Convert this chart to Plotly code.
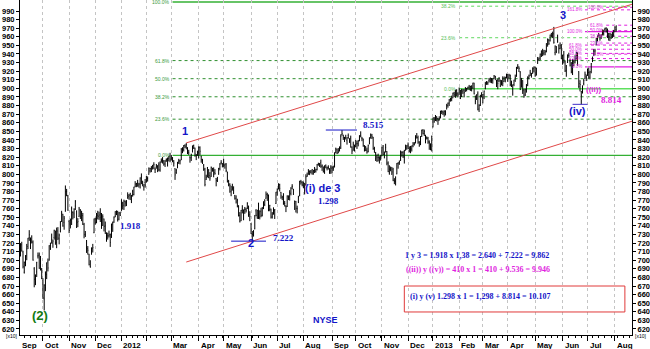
import pandas as pd
import plotly.graph_objects as go

# ---------------------------------------------------------------------------
# NYSE Composite, daily bars, quoted in index points / 10
# ---------------------------------------------------------------------------
market_holidays = [
    "2011-09-05", "2011-11-24", "2011-12-26", "2012-01-02", "2012-01-16",
    "2012-02-20", "2012-04-06", "2012-05-28", "2012-07-04", "2012-09-03",
    "2012-10-29", "2012-10-30", "2012-11-22", "2012-12-25", "2013-01-01",
    "2013-01-21", "2013-02-18", "2013-03-29", "2013-05-27", "2013-07-04",
]
sessions = pd.bdate_range("2011-09-01", "2013-08-02", freq="C", holidays=market_holidays)

bar_open = [
    726.0, 714.0, 694.0, 705.0, 718.0, 709.5, 686.0, 697.5, 705.0, 716.0, 726.5, 725.0, 723.5, 721.0, 690.0, 675.0, 686.5, 705.0, 706.0, 700.0, 689.5,
    676.0, 655.0, 668.0, 683.5, 698.0, 700.0, 714.0, 720.0, 720.0, 726.5, 733.0, 720.5, 734.0, 725.0, 733.0, 745.0, 753.5, 744.0, 757.0, 776.0, 775.0,
    745.0, 740.0, 748.0, 755.5, 754.0, 763.0, 757.0, 744.0, 751.0, 758.0, 749.5, 752.0, 741.5, 730.5, 723.0, 713.5, 707.0, 693.0, 707.0, 713.5, 732.0,
    747.0, 748.0, 752.5, 751.0, 750.0, 752.0, 740.5, 748.0, 740.0, 731.0, 728.5, 728.5, 730.0, 726.5, 742.0, 744.5, 751.0, 755.5, 756.5, 748.0, 754.0,
    758.0, 763.0, 764.0, 768.5, 767.0, 772.5, 774.0, 776.0, 775.0, 780.0, 776.5, 786.0, 787.5, 790.0, 787.5, 788.5, 797.0, 788.5, 785.5, 790.5,
    791.0, 795.0, 800.0, 804.0, 806.5, 808.5, 811.0, 806.0, 809.0, 809.5, 811.0, 805.0, 816.5, 817.0, 815.5, 812.0, 817.0, 813.0, 818.5, 821.5,
    818.0, 819.0, 815.5, 806.5, 802.0, 808.0, 814.0, 815.5, 817.0, 829.5, 828.5, 833.5, 831.5, 831.0, 825.5, 820.0, 819.5, 826.0, 833.5, 830.5, 821.5, 825.0,
    825.0, 831.0, 821.0, 816.5, 810.5, 806.0, 794.0, 797.0, 805.0, 798.5, 797.5, 806.5, 804.5, 802.0, 795.0, 793.0, 800.0, 806.5, 813.5, 812.5,
    811.0, 810.5, 812.0, 802.5, 787.5, 788.5, 780.0, 785.0, 778.5, 775.0, 772.0, 769.5, 763.0, 752.0, 746.0, 759.5, 755.0, 759.0, 759.0, 761.0, 763.0, 753.0,
    742.5, 730.5, 729.5, 736.5, 757.5, 750.0, 766.0, 750.0, 756.5, 752.5, 761.0, 765.0, 772.0, 776.5, 775.5, 759.0, 759.5, 750.5, 754.5, 757.5, 766.0,
    779.5, 783.0, 788.0, 779.0, 773.0, 775.0, 766.5, 763.0, 762.5, 773.5, 774.5, 777.5, 786.0, 782.5, 766.0, 768.0, 760.5, 767.5, 775.0, 791.5, 790.5,
    789.5, 786.0, 787.5, 797.5, 800.0, 801.0, 802.5, 801.5, 803.5, 806.0, 803.5, 805.5, 811.5, 811.0, 813.5, 809.0, 808.5, 802.5, 810.0, 807.0, 808.0, 806.5, 804.0,
    807.0, 807.5, 808.5, 825.0, 828.5, 825.0, 828.5, 830.5, 846.0, 845.5, 841.0, 842.5, 839.5, 845.0, 838.5, 842.0, 831.5, 828.0, 833.5,
    832.0, 836.0, 835.5, 839.0, 845.5, 842.0, 841.0, 832.5, 831.5, 828.0, 826.5, 835.5, 842.5, 845.5, 843.0, 829.5, 825.0, 820.0, 819.5, 818.5, 820.0,
    821.5, 833.0, 822.0, 826.0, 826.5, 813.0, 801.5, 806.5, 800.0, 806.0, 792.5, 792.0, 800.5, 812.5, 813.5, 816.0, 826.0, 825.5, 820.0, 828.5, 830.5,
    834.0, 830.5, 829.0, 829.5, 833.5, 835.0, 836.5, 843.5, 842.5, 837.5, 834.5, 844.0, 851.5, 847.5, 838.5, 843.0, 842.0, 837.5, 834.0, 829.0,
    855.0, 865.5, 864.5, 867.0, 865.0, 863.5, 867.5, 873.0, 872.5, 870.5, 872.0, 876.0, 880.0, 883.0, 887.0, 887.5, 889.0, 894.5, 891.5, 897.5, 893.5,
    893.0, 897.5, 890.5, 896.0, 898.0, 896.5, 899.5, 899.5, 901.5, 898.5, 902.5, 900.5, 906.0, 891.0, 887.5, 893.5, 876.0, 880.5, 891.5,
    889.0, 890.0, 899.5, 906.5, 906.0, 909.0, 909.0, 911.0, 909.5, 911.5, 914.0, 902.5, 909.0, 908.5, 909.5, 904.0, 911.0, 908.0, 910.0, 913.0,
    916.0, 912.0, 915.0, 904.5, 899.0, 904.5, 910.0, 914.0, 924.0, 925.0, 919.0, 901.5, 909.0, 898.0, 892.5, 899.5, 905.5, 912.5, 915.0, 917.0, 917.5, 923.0,
    924.5, 915.5, 929.0, 933.5, 936.5, 939.0, 943.5, 941.0, 942.0, 942.5, 951.0, 956.0, 955.5, 961.0, 961.0, 963.5, 941.5, 943.0, 955.5, 950.5, 946.5, 947.5,
    934.5, 939.0, 931.0, 920.5, 930.5, 938.5, 931.0, 929.5, 919.0, 931.5, 930.5, 934.5, 941.0, 919.5, 905.5, 896.0, 895.0, 905.5, 911.5, 913.5,
    915.5, 918.5, 913.0, 922.5, 932.5, 939.5, 942.0, 950.5, 957.5, 961.5, 962.0, 959.5, 962.5, 964.0, 968.5, 970.0, 969.0, 959.5, 960.0, 962.5, 962.0, 962.5,
    966.0, 968.5,
]
bar_high = [
    732.5, 715.5, 700.5, 719.8, 721.5, 711.0, 698.5, 706.0, 719.0, 726.0, 735.0, 726.5, 729.0, 723.0, 692.0, 683.5, 698.0, 709.0, 709.0, 705.0, 691.0,
    679.0, 672.0, 687.0, 697.5, 702.0, 717.5, 720.5, 731.0, 724.0, 735.5, 734.5, 738.0, 738.5, 731.0, 745.5, 757.5, 754.0, 751.5, 787.0, 783.0, 776.0,
    747.0, 748.5, 762.5, 757.0, 760.5, 770.0, 758.0, 749.0, 762.0, 759.5, 757.5, 755.0, 743.5, 734.0, 723.5, 716.5, 707.5, 700.0, 715.0, 719.0, 748.5,
    749.5, 755.0, 757.5, 756.5, 760.5, 755.0, 753.5, 748.5, 745.0, 732.5, 732.0, 734.5, 731.0, 742.5, 745.0, 751.0, 757.0, 758.0, 757.5, 756.0, 756.5,
    771.0, 768.0, 770.5, 769.5, 770.0, 779.0, 777.0, 778.5, 776.0, 782.0, 785.5, 792.0, 790.0, 793.5, 790.0, 796.5, 801.0, 792.5, 788.5, 794.5,
    798.0, 797.5, 808.0, 807.5, 809.5, 811.0, 814.0, 808.0, 812.0, 810.5, 814.0, 815.0, 818.5, 820.0, 816.5, 816.5, 818.5, 819.5, 821.5, 825.0,
    822.5, 820.0, 816.5, 807.0, 806.5, 814.5, 818.0, 817.0, 830.5, 831.5, 834.0, 835.0, 836.5, 831.5, 828.5, 821.0, 824.0, 833.5, 834.5, 831.0, 823.5, 827.5,
    832.5, 832.5, 821.5, 818.0, 812.0, 807.5, 799.5, 808.5, 806.0, 802.5, 809.0, 807.5, 808.0, 806.0, 795.5, 797.0, 807.5, 813.0, 816.5, 813.0,
    818.0, 812.5, 813.0, 803.0, 793.5, 789.5, 786.5, 789.0, 786.0, 776.0, 775.5, 771.5, 764.0, 756.0, 758.5, 764.0, 759.0, 762.0, 761.0, 767.5, 763.5, 757.0,
    743.0, 734.0, 735.0, 752.5, 759.5, 758.5, 767.0, 758.0, 761.0, 762.0, 768.5, 771.0, 780.0, 778.5, 776.5, 764.5, 760.0, 756.0, 761.5, 759.5, 779.5,
    783.5, 789.5, 789.0, 779.5, 775.0, 778.0, 769.0, 764.0, 775.5, 775.5, 781.5, 785.0, 788.5, 783.0, 769.5, 769.0, 763.5, 775.0, 792.5, 793.5, 792.0,
    791.5, 790.0, 800.0, 802.0, 806.0, 804.5, 805.0, 806.0, 805.0, 808.5, 806.5, 812.0, 813.5, 813.0, 817.0, 811.5, 809.0, 810.5, 811.5, 809.0, 810.5, 807.0, 810.5,
    810.0, 810.0, 825.5, 831.0, 830.0, 830.5, 832.5, 846.5, 851.5, 846.0, 843.5, 846.0, 843.0, 847.5, 842.0, 845.0, 832.5, 838.0, 834.5,
    840.0, 839.0, 840.0, 845.5, 850.0, 843.5, 841.5, 834.0, 833.0, 831.0, 834.5, 843.0, 847.5, 847.0, 843.5, 832.0, 826.0, 823.0, 824.0, 821.0, 822.5,
    832.0, 834.0, 826.5, 835.5, 827.0, 815.0, 810.5, 809.0, 808.5, 807.5, 795.5, 797.5, 813.0, 814.0, 816.0, 827.5, 826.5, 827.0, 828.5, 834.5, 834.0,
    837.0, 832.5, 833.0, 833.5, 837.5, 837.5, 845.5, 848.0, 845.0, 838.5, 844.5, 852.0, 852.5, 852.0, 846.0, 844.0, 843.5, 839.5, 836.0, 845.0,
    866.0, 866.5, 869.0, 867.5, 865.5, 867.5, 874.0, 874.5, 874.0, 874.5, 874.5, 882.0, 883.5, 887.5, 889.0, 891.5, 895.0, 896.0, 898.5, 899.0, 895.5,
    901.0, 898.0, 899.5, 899.0, 899.0, 901.5, 900.5, 902.0, 904.0, 903.0, 903.5, 906.5, 906.5, 891.5, 893.0, 896.5, 881.5, 892.5, 895.5,
    893.5, 897.5, 907.5, 908.5, 908.0, 912.0, 912.5, 912.0, 911.5, 915.5, 914.5, 910.0, 911.0, 913.0, 910.0, 909.5, 914.0, 913.5, 913.5, 917.0,
    916.5, 917.0, 916.0, 909.0, 904.5, 910.0, 916.0, 925.0, 928.0, 925.5, 920.0, 912.0, 909.5, 899.5, 899.5, 905.0, 914.0, 916.0, 921.5, 918.0, 924.5, 925.5,
    925.0, 924.0, 936.5, 936.0, 940.5, 944.0, 946.0, 944.5, 944.5, 952.5, 958.0, 957.5, 962.5, 964.5, 966.0, 971.5, 950.0, 949.0, 962.5, 951.0, 953.5, 951.5,
    939.0, 943.5, 932.0, 927.0, 939.5, 941.5, 934.5, 930.5, 934.0, 933.5, 938.5, 942.5, 942.0, 920.0, 909.5, 897.0, 903.5, 911.0, 919.5, 916.0,
    923.0, 924.0, 920.5, 929.5, 937.0, 945.5, 946.0, 958.5, 961.5, 964.5, 962.5, 963.0, 968.5, 968.0, 970.5, 971.0, 969.5, 964.5, 964.5, 963.5, 965.5, 968.0,
    972.0, 973.0,
]
bar_low = [
    720.0, 702.0, 688.5, 704.5, 710.0, 690.5, 684.5, 693.0, 700.0, 713.0, 722.5, 713.0, 719.5, 699.5, 668.5, 671.0, 680.5, 702.0, 690.0, 688.0, 678.0,
    655.0, 641.5, 664.0, 678.0, 687.0, 699.5, 712.0, 719.5, 714.5, 724.0, 718.0, 714.0, 723.5, 718.5, 732.5, 744.5, 739.0, 735.5, 756.5, 774.5, 757.5,
    731.5, 737.0, 741.0, 747.5, 749.0, 758.5, 737.5, 738.5, 750.5, 748.0, 745.5, 741.0, 725.5, 727.0, 708.5, 706.5, 694.0, 691.5, 706.5, 709.0, 731.5,
    741.5, 743.0, 747.5, 747.0, 744.5, 736.5, 740.0, 733.5, 730.5, 721.5, 724.0, 726.5, 715.5, 726.0, 733.0, 743.5, 750.0, 752.5, 745.0, 746.5, 751.5,
    757.5, 759.0, 758.5, 762.5, 763.0, 771.5, 770.5, 770.0, 766.5, 774.0, 775.5, 785.0, 785.0, 785.5, 784.5, 783.5, 788.5, 786.0, 781.0, 784.5,
    790.5, 791.5, 799.5, 802.0, 802.5, 805.5, 806.0, 801.5, 806.5, 802.5, 803.5, 803.0, 813.5, 812.5, 810.0, 808.5, 814.5, 809.0, 815.0, 814.0,
    816.0, 814.0, 809.0, 793.5, 800.5, 807.0, 812.0, 811.5, 816.5, 824.5, 826.5, 830.5, 829.0, 823.5, 822.5, 813.5, 815.5, 825.5, 829.5, 820.5, 816.5, 821.5,
    818.5, 822.5, 813.5, 812.0, 804.0, 786.0, 793.5, 796.5, 795.5, 792.5, 797.0, 803.0, 796.5, 799.5, 786.0, 791.0, 799.5, 804.5, 811.5, 808.0,
    808.0, 806.5, 802.5, 790.5, 786.0, 778.5, 774.5, 781.0, 777.0, 770.5, 766.0, 761.5, 751.0, 744.0, 745.5, 754.5, 746.5, 754.0, 755.5, 759.5, 750.5, 745.5,
    730.5, 722.2, 727.5, 736.0, 751.0, 748.0, 748.0, 747.5, 750.0, 751.0, 759.5, 763.0, 771.5, 769.0, 757.0, 757.0, 748.5, 748.5, 753.0, 748.0, 765.5,
    775.0, 782.5, 780.0, 771.5, 770.0, 764.5, 762.5, 756.0, 762.0, 770.0, 769.5, 775.5, 782.5, 776.0, 758.5, 755.5, 754.5, 766.5, 774.5, 788.0, 786.0,
    784.0, 776.5, 787.0, 797.0, 799.5, 799.0, 801.0, 799.5, 799.5, 801.5, 802.0, 804.5, 810.0, 808.5, 807.5, 804.0, 802.0, 800.5, 807.0, 804.5, 805.5, 800.5, 800.5,
    801.0, 804.0, 808.0, 824.5, 823.5, 824.5, 826.5, 829.5, 845.0, 840.0, 837.5, 840.5, 834.5, 841.5, 836.5, 831.0, 823.5, 827.5, 826.5,
    831.5, 829.5, 832.5, 838.5, 843.0, 838.5, 832.0, 826.5, 827.0, 824.0, 825.5, 835.0, 841.5, 841.0, 828.5, 825.0, 815.5, 814.5, 815.0, 812.5, 816.0,
    821.0, 822.5, 818.5, 825.5, 810.5, 802.5, 799.5, 803.5, 799.5, 792.0, 788.5, 787.0, 800.0, 806.5, 811.0, 815.5, 820.5, 819.0, 812.5, 827.5, 828.5,
    829.5, 825.5, 824.5, 826.5, 831.5, 833.5, 836.0, 841.5, 835.5, 832.0, 834.0, 843.5, 846.5, 844.5, 836.0, 840.5, 835.5, 828.5, 828.0, 826.5,
    854.5, 860.0, 862.0, 861.5, 857.5, 862.5, 865.0, 870.0, 869.0, 867.0, 868.5, 875.5, 877.5, 879.5, 884.5, 885.0, 888.5, 890.0, 889.0, 891.0, 889.5,
    892.5, 887.5, 890.0, 893.5, 889.5, 896.0, 896.5, 898.5, 898.0, 897.0, 896.5, 899.5, 893.0, 881.5, 886.5, 874.5, 872.5, 879.5, 889.5,
    882.5, 887.5, 899.0, 904.0, 904.0, 907.0, 906.5, 906.0, 905.5, 911.0, 909.5, 901.5, 899.0, 907.5, 901.5, 903.5, 902.5, 907.5, 907.0, 911.5,
    907.5, 911.5, 902.5, 901.5, 891.5, 902.5, 907.5, 913.5, 922.5, 919.0, 898.0, 901.0, 893.5, 889.0, 891.0, 895.0, 902.5, 910.5, 914.5, 912.5, 917.0, 918.5,
    913.5, 915.0, 928.5, 932.0, 933.0, 936.5, 937.5, 938.5, 938.5, 942.0, 948.5, 950.5, 954.5, 959.5, 958.5, 952.0, 938.5, 941.0, 953.0, 940.5, 945.5, 934.0,
    927.5, 929.0, 919.0, 913.5, 929.5, 935.5, 925.5, 917.5, 915.5, 925.5, 929.0, 933.5, 926.5, 900.5, 896.5, 881.4, 894.0, 903.5, 911.0, 908.5,
    914.5, 911.5, 910.5, 917.5, 930.5, 937.5, 938.5, 950.0, 954.5, 960.0, 955.5, 957.5, 961.5, 961.5, 966.0, 965.0, 958.5, 955.5, 955.0, 957.5, 958.5, 960.0,
    965.5, 966.0,
]
bar_close = [
    722.6, 704.4, 699.1, 719.2, 711.5, 692.5, 697.4, 703.7, 713.2, 725.5, 729.6, 722.5, 721.3, 700.1, 677.8, 681.8, 697.8, 705.2, 690.7, 696.2, 678.8,
    656.2, 671.0, 684.1, 696.7, 691.0, 716.9, 717.3, 724.4, 722.2, 734.8, 720.5, 735.2, 725.9, 729.2, 744.2, 755.0, 739.9, 748.9, 779.7, 780.0, 758.2,
    734.6, 746.5, 760.5, 755.7, 759.2, 768.1, 738.7, 745.1, 759.6, 751.1, 754.7, 742.1, 729.7, 729.4, 714.6, 711.6, 694.8, 691.7, 713.2, 714.7, 748.2,
    744.3, 744.1, 751.7, 752.6, 754.1, 738.2, 750.6, 739.4, 733.0, 724.7, 727.0, 729.4, 720.8, 742.3, 743.7, 749.9, 756.7, 756.7, 747.3, 755.3, 752.0,
    766.2, 766.4, 768.6, 766.7, 768.4, 775.2, 775.5, 777.3, 773.5, 776.2, 784.8, 788.7, 789.2, 789.6, 788.8, 795.6, 791.1, 789.8, 787.8, 787.4,
    794.5, 795.3, 806.9, 806.6, 808.2, 810.0, 811.2, 805.6, 810.5, 809.7, 805.3, 814.2, 816.1, 816.7, 812.0, 815.4, 816.7, 817.8, 820.6, 816.7,
    819.0, 816.3, 813.1, 799.3, 804.8, 812.7, 815.7, 815.8, 829.2, 828.2, 833.1, 832.7, 834.6, 825.5, 824.8, 819.0, 822.9, 832.9, 830.6, 823.6, 822.3, 825.4,
    831.6, 826.8, 817.0, 816.5, 805.8, 788.0, 796.6, 807.6, 796.1, 795.7, 808.0, 804.7, 800.0, 800.9, 792.8, 795.8, 806.6, 812.0, 814.0, 810.8,
    814.0, 811.9, 804.3, 791.3, 791.6, 786.9, 781.6, 783.6, 780.9, 772.2, 767.8, 763.1, 751.6, 744.7, 758.0, 758.4, 758.4, 759.4, 757.7, 766.1, 753.8, 750.8,
    731.0, 729.9, 734.0, 752.2, 752.2, 758.3, 748.7, 757.4, 752.1, 760.3, 768.1, 769.2, 776.8, 775.5, 758.2, 763.6, 750.1, 753.7, 760.5, 758.9, 779.2,
    782.4, 788.7, 783.6, 774.9, 773.6, 766.0, 766.0, 762.2, 774.7, 772.9, 778.7, 783.9, 786.0, 776.7, 768.4, 760.2, 759.9, 773.8, 791.4, 791.0, 787.6,
    786.7, 780.8, 797.0, 798.9, 803.0, 803.5, 803.8, 805.6, 804.6, 804.4, 805.4, 811.1, 812.6, 812.6, 809.8, 809.9, 803.4, 808.6, 808.2, 807.5, 808.2, 801.9, 807.4,
    807.8, 807.0, 824.9, 829.7, 824.6, 827.2, 830.3, 843.9, 847.2, 843.1, 842.0, 843.0, 842.6, 842.5, 840.6, 831.8, 827.0, 835.0, 831.3,
    834.9, 835.7, 838.7, 844.7, 844.4, 841.5, 833.2, 828.0, 828.2, 825.7, 833.8, 842.4, 845.9, 843.8, 829.8, 830.2, 818.2, 815.7, 819.5, 818.9, 819.1,
    830.9, 823.1, 824.9, 831.3, 813.0, 803.1, 805.9, 805.9, 802.7, 793.0, 791.7, 796.9, 812.7, 813.3, 815.1, 827.2, 825.5, 821.2, 827.6, 831.2, 832.7,
    830.2, 828.8, 830.1, 832.8, 835.2, 835.5, 842.4, 842.8, 837.5, 834.0, 843.9, 851.0, 847.1, 850.0, 843.8, 841.8, 837.7, 836.7, 828.8, 844.3,
    865.7, 864.0, 868.2, 865.4, 862.6, 864.9, 872.9, 872.9, 872.1, 873.1, 873.3, 879.7, 882.7, 886.6, 887.9, 887.9, 894.3, 892.6, 897.2, 893.7, 891.4,
    898.8, 888.4, 897.7, 898.2, 895.1, 900.1, 899.6, 901.0, 901.5, 902.2, 899.7, 906.3, 893.6, 884.9, 892.7, 874.9, 880.2, 891.4, 890.6,
    892.7, 896.8, 905.4, 906.4, 906.5, 910.5, 911.9, 909.8, 910.9, 914.5, 913.0, 908.0, 905.8, 911.8, 902.7, 909.2, 906.2, 913.2, 912.7, 916.4,
    910.8, 915.5, 904.3, 907.9, 904.0, 909.7, 912.9, 924.0, 927.4, 923.1, 898.8, 911.7, 897.1, 891.0, 899.0, 903.1, 912.5, 914.1, 917.8, 916.1, 922.7, 925.0,
    914.8, 923.4, 933.1, 934.9, 939.8, 943.7, 940.2, 944.3, 942.7, 952.2, 957.1, 952.3, 962.1, 961.5, 963.1, 953.5, 949.0, 948.5, 954.5, 946.2, 949.6, 934.4,
    938.3, 933.2, 920.3, 926.5, 938.4, 938.0, 926.9, 919.1, 932.7, 927.2, 934.2, 941.5, 926.9, 902.1, 904.5, 891.9, 900.4, 909.1, 916.3, 912.4,
    918.9, 918.4, 919.2, 928.5, 935.1, 943.5, 943.6, 958.1, 961.1, 962.4, 958.8, 961.5, 966.3, 967.9, 969.8, 966.4, 961.0, 963.5, 964.2, 960.6, 961.0, 960.9,
    971.2, 972.8,
]
assert len(sessions) == len(bar_open) == len(bar_high) == len(bar_low) == len(bar_close)

# Elliott-wave trend channel (start / end of each trendline)
channel_dates = ["2012-03-19", "2013-08-21"]
channel_upper = [836.5, 998.0]
channel_lower = [697.9, 861.9]

# horizontal marks at the labelled turning points
wave2_dates, wave2_level = ["2012-05-09", "2012-06-19"], 722.2
peak_dates, peak_level = ["2012-08-27", "2012-10-02"], 851.5
wave_iv_dates, wave_iv_level = ["2013-06-13", "2013-07-01"], 881.4

# Fibonacci grids: (0 % level, 100 % level)
fib_main = (822.0, 1000.5)
fib_second = (899.6, 1150.9)
fib_wave_b = (925.0, 966.0)
fib_wave_a = (939.8, 994.3)

month_labels = ["Sep", "Oct", "Nov", "Dec", "2012", "", "Mar", "Apr", "May", "Jun", "Jul", "Aug",
                "Sep", "Oct", "Nov", "Dec", "2013", "Feb", "Mar", "Apr", "May", "Jun", "Jul", "Aug"]
y_ticks = list(range(620, 1000, 10))

# ---------------------------------------------------------------------------
SANS = "Liberation Sans"
SERIF = "Liberation Serif"
BLUE = "#1414c8"
MAGENTA = "#e01fe0"
RED = "#e04848"
X_START = "2011-09-06 14:00"
X_END = "2013-08-20 17:00"

fig = go.Figure()

fig.add_trace(go.Ohlc(
    x=sessions, open=bar_open, high=bar_high, low=bar_low, close=bar_close,
    increasing=dict(line=dict(color="black", width=1)),
    decreasing=dict(line=dict(color="black", width=1)),
    tickwidth=0.35, hoverinfo="x+y",
))

for ys in (channel_upper, channel_lower):
    fig.add_trace(go.Scatter(x=channel_dates, y=ys, mode="lines", yaxis="y2",
                             line=dict(color=RED, width=1), hoverinfo="skip"))

for ds, lv, col in ((wave2_dates, wave2_level, BLUE), (peak_dates, peak_level, BLUE),
                    (wave_iv_dates, wave_iv_level, "#4030c8")):
    fig.add_trace(go.Scatter(x=ds, y=[lv, lv], mode="lines", yaxis="y2",
                             line=dict(color=col, width=1), hoverinfo="skip"))


def fib_grid(levels, ratios, start, line_color, solid_color, text_color,
             solid=(0.0, 1.0), label_size=5):
    base, top = levels
    for r in ratios:
        v = base + r * (top - base)
        is_solid = r in solid
        fig.add_shape(type="line", xref="x", yref="y", x0=start, x1=X_END, y0=v, y1=v,
                      line=dict(color=solid_color if is_solid else line_color,
                                width=1.4 if is_solid else 1,
                                dash="solid" if is_solid else "dot"),
                      layer="below")
        fig.add_annotation(x=start, y=v, text=f"{r * 100:.1f}%", xanchor="right",
                           yanchor="middle", xshift=-1, showarrow=False,
                           font=dict(family=SANS, size=label_size, color=text_color))


fib_grid(fib_main, [0.0, 0.236, 0.382, 0.5, 0.618, 1.0], "2012-03-02",
         "#2f8f2f", "#34b034", "#3c9a3c")
fib_grid(fib_second, [0.0, 0.236, 0.382], "2013-02-01",
         "#5fd85f", "#5fe05f", "#55c055", solid=(0.0,))
fib_grid(fib_wave_b, [0.0, 0.236, 0.382, 0.5, 0.618, 1.0, 1.618], "2013-06-27",
         MAGENTA, MAGENTA, MAGENTA, label_size=4.5)
fib_grid(fib_wave_a, [0.0, 0.236, 0.382, 0.5, 0.618, 1.0], "2013-07-23",
         MAGENTA, MAGENTA, MAGENTA, solid=(), label_size=4.5)


# wave labels and price notes
def note(x, y, text, color, family, size, bold=True, xanchor="center"):
    fig.add_annotation(x=x, y=y, text=f"<b>{text}</b>" if bold else text, showarrow=False,
                       xanchor=xanchor, yanchor="middle",
                       font=dict(family=family, size=size, color=color))


note("2012-03-16", 850.4, "1", BLUE, SANS, 11)
note("2012-06-01", 719.5, "2", BLUE, SANS, 11)
note("2013-06-03", 984.8, "3", BLUE, SANS, 11)
note("2013-06-19", 874.2, "(iv)", BLUE, SANS, 11)
note("2012-08-22", 783.5, "(i) de 3", BLUE, SANS, 11)
note("2011-09-29", 635.7, "(2)", "#127a12", SANS, 13)
note("2013-07-09", 898.7, "((ii))", MAGENTA, SANS, 8)
note("2012-08-27", 630.5, "NYSE", BLUE, SANS, 9)
note("2012-01-12", 740.0, "1.918", BLUE, SERIF, 9)
note("2012-08-29", 769.5, "1.298", BLUE, SERIF, 9)
note("2012-07-10", 726.0, "7.222", BLUE, SERIF, 9)
note("2012-10-19", 856.8, "8.515", BLUE, SERIF, 9)
note("2013-07-29", 887.0, "8.814", MAGENTA, SERIF, 9)
note("2012-11-27", 705.5, "1 y 3 = 1.918 x 1,38 = 2.640 + 7.222 = 9.862", BLUE, SERIF, 8, xanchor="left")
note("2012-11-28", 689.8, "((ii)) y ((v)) = 410 x 1 = 410 + 9.536 = 9.946", MAGENTA, SERIF, 8, xanchor="left")
note("2012-12-03", 657.8, "(i) y (v) 1.298 x 1 = 1,298 + 8.814 = 10.107", BLUE, SERIF, 8, xanchor="left")

fig.add_shape(type="rect", xref="x", yref="y", x0="2012-11-28", x1="2013-08-13",
              y0=639.8, y1=670.0, line=dict(color="#e03a3a", width=1))

# month labels sit just right of each month's first session
month_starts = sessions.to_series().groupby(sessions.to_period("M")).first()
for start, label in zip(month_starts, month_labels):
    if not label:
        continue
    fig.add_annotation(x=max(start, pd.Timestamp(X_START)), y=0, xref="x", yref="paper",
                       text=f"<b>{label}</b>", showarrow=False, xanchor="left",
                       yanchor="top", yshift=-4, xshift=0,
                       font=dict(family=SANS, size=8, color="black"))

for side_x, anchor in ((0, "right"), (1, "left")):
    fig.add_annotation(x=side_x, y=0, xref="paper", yref="paper", text="[x10]",
                       showarrow=False, xanchor=anchor, yanchor="middle", yshift=-1,
                       xshift=-1 if anchor == "right" else 1,
                       font=dict(family=SANS, size=5, color="black"))

tick_font = dict(family=SANS, size=7.5, color="black", weight="bold")
fig.update_layout(
    width=650, height=349, margin=dict(l=20, r=18, t=0, b=14),
    showlegend=False, plot_bgcolor="white", paper_bgcolor="white",
    xaxis=dict(
        type="date", range=[X_START, X_END], rangeslider=dict(visible=False),
        rangebreaks=[dict(bounds=["sat", "mon"]), dict(values=market_holidays)],
        tickmode="array", tickvals=list(month_starts), showticklabels=False,
        ticks="outside", ticklen=5, tickcolor="black",
        showgrid=True, gridcolor="#c4c4c4", griddash="dot", gridwidth=1,
        minor=dict(ticks="outside", ticklen=2, tickcolor="black",
                   dtick=7 * 24 * 3600 * 1000, tick0="2011-09-12", showgrid=False),
        showline=True, linecolor="black", linewidth=1, mirror=True, zeroline=False,
    ),
    yaxis=dict(
        range=[613.0, 1002.8], tickmode="array", tickvals=y_ticks,
        ticks="outside", ticklen=3, tickcolor="black", tickfont=tick_font,
        showgrid=False, zeroline=False, showline=True, linecolor="black",
        linewidth=1, mirror=True, automargin=False,
    ),
    yaxis2=dict(
        overlaying="y", side="right", matches="y", tickmode="array", tickvals=y_ticks,
        ticks="outside", ticklen=3, tickcolor="black", tickfont=tick_font,
        showgrid=False, zeroline=False, showline=False, automargin=False,
    ),
)

fig.write_html("out.html")
